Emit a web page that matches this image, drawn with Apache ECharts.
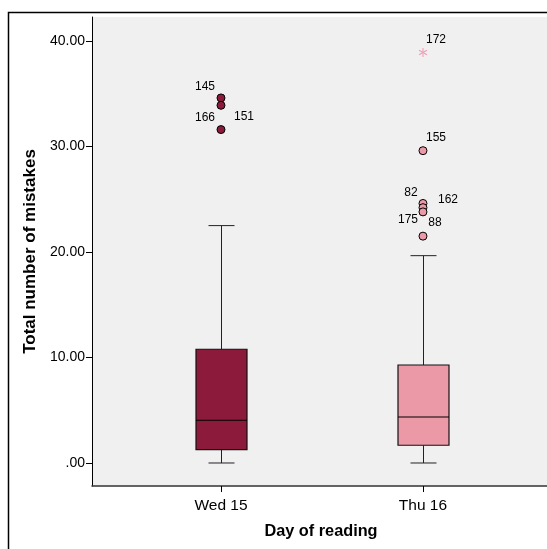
<!DOCTYPE html>
<html>
<head>
<meta charset="utf-8">
<script src="https://cdn.jsdelivr.net/npm/echarts@6/dist/echarts.min.js"></script>
<style>
  html, body { margin: 0; padding: 0; background: #ffffff; }
  #chart { width: 547px; height: 549px; }
</style>
</head>
<body>
<div id="chart"></div>
<script>
// Day groups on the x axis (positions 1 and 2)
const days = ['Wed 15', 'Thu 16'];
const dayPositions = [1, 2];

// Five-number summaries: lower whisker, Q1, median, Q3, upper whisker
const wedBox = [0, 1.26, 4.05, 10.78, 22.5];
const thuBox = [0, 1.68, 4.36, 9.29, 19.65];

// Outliers (circles) with their case numbers
const wedOutlierValues = [34.6, 33.9, 31.6];
const wedOutlierIds = ['145', '166', '151'];
const thuOutlierValues = [29.6, 24.6, 24.2, 23.8, 21.5];
const thuOutlierIds = ['155', '82', '162', '175', '88'];

// Extreme values (asterisks)
const thuExtremeValues = [38.9];
const thuExtremeIds = ['172'];

// Y axis tick values
const yTicks = [0, 10, 20, 30, 40];

// Case-number label placement around each point (px)
const wedLabelOffsets = [[-16, -11], [-16, 12], [23, -13]];
const thuLabelOffsets = [[13, -13], [-12, -11], [25, -8], [-15, 8], [12, -13]];
const thuExtremeLabelOffsets = [[13, -13]];

const wedColor = '#8c1b3b';
const thuColor = '#ec99a7';
const FONT = 'Liberation Sans, Arial, Helvetica, sans-serif';

const boxData = [
  [dayPositions[0]].concat(wedBox),
  [dayPositions[1]].concat(thuBox)
];
const boxColors = [wedColor, thuColor];

function pointSeries(x, values, ids, offsets, color, symbol, size, border) {
  return {
    type: 'scatter',
    symbol: symbol,
    symbolSize: size,
    symbolKeepAspect: true,
    itemStyle: { color: color, borderColor: border ? '#000' : color, borderWidth: border ? 1 : 0, opacity: 1 },
    data: values.map((v, i) => ({
      value: [x, v],
      name: ids[i],
      label: { offset: offsets[i] }
    })),
    label: {
      show: true,
      position: 'inside',
      formatter: p => p.name,
      color: '#000',
      fontSize: 12,
      fontFamily: FONT,
      align: 'center',
      verticalAlign: 'middle'
    },
    emphasis: { disabled: true },
    z: 5
  };
}

// six-armed asterisk marker for extreme values
const asterisk = 'path://M-0.6,-5 L0.6,-5 L0.6,5 L-0.6,5 Z M4.03,3.02 L4.63,1.98 L-4.03,-3.02 L-4.63,-1.98 Z M-4.63,1.98 L-4.03,3.02 L4.63,-1.98 L4.03,-3.02 Z';

const chart = echarts.init(document.getElementById('chart'));
chart.setOption({
  animation: false,
  backgroundColor: '#ffffff',
  textStyle: { fontFamily: FONT },
  grid: {
    left: 92, top: 17, right: 0, bottom: 63,
    show: true, backgroundColor: '#f0f0f0', borderWidth: 0
  },
  xAxis: {
    type: 'value',
    min: 0.3614, max: 2.614,
    axisLine: { show: true, onZero: false, lineStyle: { color: '#333', width: 1.5 } },
    axisTick: { show: true, customValues: dayPositions, length: 6, lineStyle: { color: '#000' } },
    axisLabel: {
      customValues: dayPositions,
      formatter: v => days[Math.round(v) - 1],
      fontSize: 15.5, color: '#000', margin: 12
    },
    splitLine: { show: false }
  },
  yAxis: {
    type: 'value',
    min: -2.18, max: 42.27,
    axisLine: { show: true, onZero: false, lineStyle: { color: '#000', width: 1 } },
    axisTick: { show: true, customValues: yTicks, length: 6, lineStyle: { color: '#000' } },
    axisLabel: {
      customValues: yTicks,
      formatter: v => (v === 0 ? '.00' : v.toFixed(2)),
      fontSize: 14, color: '#000', margin: 7
    },
    splitLine: { show: false },
    name: 'Total number of mistakes',
    nameLocation: 'middle',
    nameGap: 52,
    nameTextStyle: { fontSize: 17, fontWeight: 'bold', color: '#000' }
  },
  graphic: [
    {
      type: 'rect',
      shape: { x: 8.5, y: 12.5, width: 600, height: 600 },
      style: { fill: 'none', stroke: '#000', lineWidth: 1.5 },
      silent: true, z: 10
    },
    {
      type: 'text',
      x: 321, y: 532,
      style: {
        text: 'Day of reading', fill: '#000', fontSize: 16.3, fontWeight: 'bold',
        fontFamily: FONT,
        align: 'center', verticalAlign: 'middle'
      },
      silent: true
    }
  ],
  series: [
    {
      type: 'custom',
      data: boxData,
      encode: { x: 0, y: [1, 2, 3, 4, 5] },
      renderItem: function (params, api) {
        const x = api.value(0);
        const p = v => api.coord([x, v]);
        const lo = p(api.value(1)), q1 = p(api.value(2)), med = p(api.value(3)),
              q3 = p(api.value(4)), hi = p(api.value(5));
        const cx = Math.round(lo[0]) + 0.5;
        const half = 25.5, cap = 13;
        const lineStyle = { stroke: '#222', lineWidth: 1 };
        return {
          type: 'group',
          children: [
            { type: 'line', shape: { x1: cx, y1: hi[1], x2: cx, y2: q3[1] }, style: lineStyle },
            { type: 'line', shape: { x1: cx, y1: q1[1], x2: cx, y2: lo[1] }, style: lineStyle },
            { type: 'line', shape: { x1: cx - cap, y1: hi[1], x2: cx + cap, y2: hi[1] }, style: lineStyle },
            { type: 'line', shape: { x1: cx - cap, y1: lo[1], x2: cx + cap, y2: lo[1] }, style: lineStyle },
            {
              type: 'rect',
              shape: { x: cx - half, y: q3[1], width: half * 2, height: q1[1] - q3[1] },
              style: { fill: boxColors[params.dataIndex], stroke: '#111', lineWidth: 1.2 }
            },
            { type: 'line', shape: { x1: cx - half, y1: med[1], x2: cx + half, y2: med[1] }, style: { stroke: '#000', lineWidth: 1.2 } }
          ]
        };
      },
      z: 3
    },
    pointSeries(dayPositions[0], wedOutlierValues, wedOutlierIds, wedLabelOffsets, wedColor, 'circle', 8, true),
    pointSeries(dayPositions[1], thuOutlierValues, thuOutlierIds, thuLabelOffsets, thuColor, 'circle', 8, true),
    pointSeries(dayPositions[1], thuExtremeValues, thuExtremeIds, thuExtremeLabelOffsets, '#f09cb4', asterisk, 9, false)
  ]
});
</script>
</body>
</html>
